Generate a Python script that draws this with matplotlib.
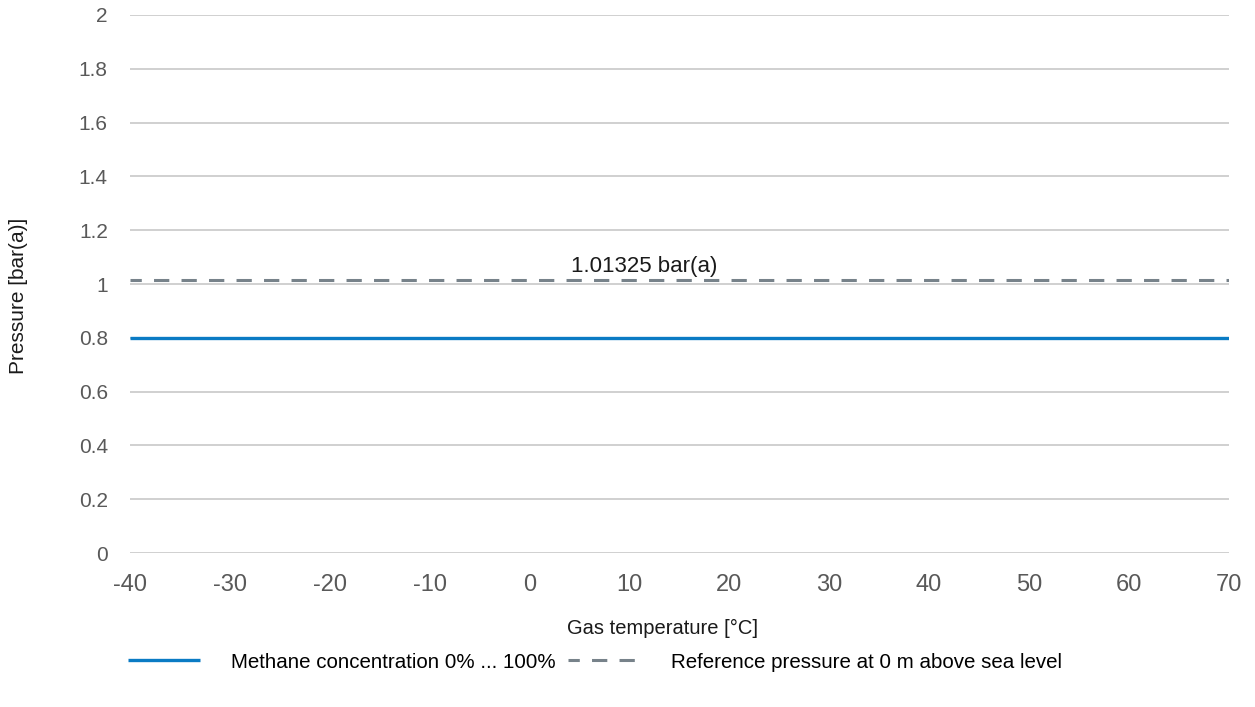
import matplotlib.pyplot as plt

# data
temperature = [-40, 70]
methane_pressure = [0.8, 0.8]
reference_pressure = [1.01325, 1.01325]
x_ticks = [-40, -30, -20, -10, 0, 10, 20, 30, 40, 50, 60, 70]
x_tick_labels = ["-40", "-30", "-20", "-10", "0", "10", "20", "30", "40", "50", "60", "70"]
y_ticks = [0, 0.2, 0.4, 0.6, 0.8, 1, 1.2, 1.4, 1.6, 1.8, 2]
y_tick_labels = ["0", "0.2", "0.4", "0.6", "0.8", "1", "1.2", "1.4", "1.6", "1.8", "2"]

plt.rcParams['font.family'] = ['Liberation Sans', 'DejaVu Sans']

fig = plt.figure(figsize=(12.55, 7.07), dpi=100)
ax = fig.add_axes([0.1036, 0.2178, 0.8753, 0.761])

ax.plot(temperature, methane_pressure, color="#0a7bc4", linewidth=2.4,
        label="Methane concentration 0% ... 100%", solid_capstyle="butt")
ax.plot(temperature, reference_pressure, color="#77828a", linewidth=2.2,
        linestyle=(1.3, (5, 4)), label="Reference pressure at 0 m above sea level")
ax.text(11.5, 1.045, "1.01325 bar(a)", ha="center", va="baseline", fontsize=16, color="#1a1a1a")

ax.set_xlim(-40, 70)
ax.set_ylim(0, 2)
ax.set_xticks(x_ticks)
ax.set_xticklabels(x_tick_labels)
ax.set_yticks(y_ticks)
ax.set_yticklabels(y_tick_labels)
ax.grid(True, axis="y", color="#c8c8c8", linewidth=1.2)
ax.set_axisbelow(True)
for s in ax.spines.values():
    s.set_visible(False)
ax.tick_params(axis="x", length=0, pad=15, labelsize=17, labelcolor="#595959")
ax.tick_params(axis="y", length=0, pad=16, labelsize=15, labelcolor="#595959")

fig.text(0.5275, 0.1117, "Gas temperature [°C]", ha="center", va="center",
         fontsize=14.5, color="#1a1a1a")
fig.text(0.0151, 0.581, "Pressure [bar(a)]", ha="center", va="center",
         rotation=90, fontsize=15, color="#1a1a1a")

leg = fig.legend(loc="center left", bbox_to_anchor=(0.102, 0.0636), ncol=2, frameon=False,
                 borderpad=0, borderaxespad=0, fontsize=14.8, handlelength=3.5,
                 handletextpad=1.5, columnspacing=0.6)

plt.savefig("out.png", dpi=100)
